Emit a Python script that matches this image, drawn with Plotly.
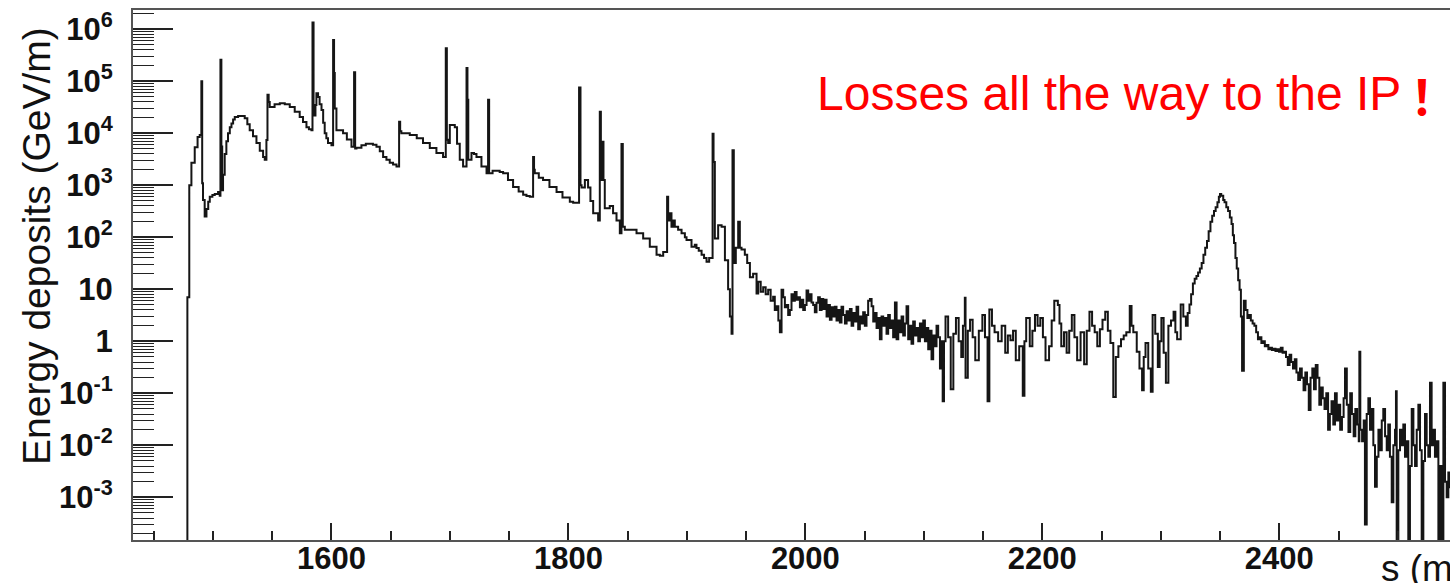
import numpy as np
import plotly.graph_objects as go

# Energy deposited along the beam line: left edge of each histogram bin (m)
# and the deposit in that bin (GeV/m). Bins with no deposit are stored as 0.

# collimation region and first magnets
s_upstream = [1470.0, 1478.4, 1480.0, 1481.8, 1484.6, 1487.0, 1488.8, 1490.2, 1490.9, 1491.6,
              1493.0, 1494.5, 1496.0, 1497.3, 1499.5, 1501.5, 1504.3, 1505.7, 1506.3, 1507.1,
              1507.8, 1508.5, 1509.9, 1511.3, 1512.7, 1514.2, 1515.6, 1517.0, 1518.4, 1521.2,
              1524.0, 1526.8, 1529.0, 1531.0, 1533.8, 1536.7, 1539.5, 1542.3, 1543.7, 1545.1,
              1546.0, 1547.0, 1547.9, 1552.0, 1556.4, 1560.6, 1564.8, 1569.0, 1573.2, 1576.0,
              1578.9, 1581.0, 1583.1, 1584.0, 1584.9, 1585.6, 1586.5, 1587.3, 1588.7, 1590.0,
              1591.6, 1593.0, 1594.3, 1595.7, 1597.1, 1600.0]
e_upstream = [0, 7, 1.0e3, 2.7e3, 5.4e3, 8.5e3, 9.3e3, 1.0e5, 1.1e3, 5.2e2,
              2.5e2, 3.5e2, 4.8e2, 6.0e2, 6.5e2, 6.8e2, 7.4e2, 6.3e2, 2.6e5, 5.6e3,
              8.0e2, 1.6e3, 4.0e3, 7.0e3, 1.0e4, 1.3e4, 1.55e4, 1.85e4, 2.05e4, 2.15e4,
              2.15e4, 1.95e4, 1.5e4, 1.15e4, 8.8e3, 6.5e3, 4.6e3, 3.5e3, 3.1e3, 7.4e3,
              5.5e4, 4.0e4, 3.2e4, 3.6e4, 3.8e4, 3.6e4, 3.2e4, 2.6e4, 2.05e4, 1.65e4,
              1.3e4, 1.2e4, 1.15e4, 1.35e6, 3.5e4, 2.2e4, 3.5e4, 5.9e4, 5.0e4, 3.6e4,
              2.8e4, 1.6e4, 1.0e4, 8.0e3, 6.5e3, 5.9e3]

s_arc1 = [1601.4, 1602.2, 1602.8, 1604.2, 1608.4, 1609.8, 1613.0, 1616.9, 1619.1, 1620.0,
          1621.1, 1625.3, 1629.0, 1632.3, 1635.0, 1638.0, 1640.8, 1643.6, 1646.4, 1649.2,
          1652.0, 1654.9, 1657.1, 1658.0, 1659.0, 1660.4, 1666.1, 1672.0, 1677.3, 1683.0,
          1688.6, 1694.2, 1696.5, 1697.4, 1698.5, 1699.9, 1702.0, 1704.1, 1706.0, 1708.3,
          1711.1, 1714.0, 1714.8, 1715.5, 1718.2, 1720.3, 1722.4, 1726.6, 1730.9, 1732.2,
          1733.1, 1736.0, 1739.3, 1742.0, 1744.9, 1749.0, 1753.3, 1758.0, 1761.8, 1764.6,
          1767.4, 1770.2, 1771.0, 1771.6, 1775.0, 1778.6, 1784.0, 1790.0, 1795.0, 1801.2,
          1804.0]
e_arc1 = [6.2e5, 1.45e5, 3.0e4, 1.15e4, 1.15e4, 1.0e4, 7.6e3, 5.5e3, 1.5e5, 5.1e3,
          5.3e3, 5.9e3, 6.3e3, 6.3e3, 6.0e3, 5.5e3, 4.5e3, 3.5e3, 3.1e3, 2.7e3,
          2.5e3, 2.3e3, 1.66e4, 1.1e4, 1.0e4, 1.0e4, 9.3e3, 8.0e3, 6.5e3, 5.2e3,
          4.2e3, 3.5e3, 4.3e5, 7.5e3, 6.5e3, 1.45e4, 1.45e4, 1.3e4, 6.3e3, 3.1e3,
          2.3e3, 1.8e5, 4.4e4, 3.1e3, 4.2e3, 4.0e3, 3.5e3, 2.3e3, 1.7e3, 4.4e4,
          1.7e3, 1.9e3, 1.9e3, 1.8e3, 1.7e3, 1.26e3, 9.3e2, 7.6e2, 6.6e2, 6.2e2,
          6.0e2, 3.5e3, 2.0e3, 1.7e3, 1.4e3, 1.26e3, 9.3e2, 7.4e2, 5.8e2, 4.8e2,
          4.6e2]

s_arc2 = [1808.2, 1809.0, 1810.2, 1811.1, 1813.9, 1816.6, 1818.6, 1820.9, 1825.1, 1826.5,
          1827.4, 1828.0, 1828.8, 1829.6, 1830.7, 1834.9, 1837.7, 1840.6, 1843.4, 1844.8,
          1845.9, 1847.6, 1851.8, 1857.5, 1863.1, 1868.7, 1874.4, 1877.2, 1880.0, 1883.3,
          1884.2, 1885.6, 1887.0, 1888.4, 1889.8, 1892.6, 1895.5, 1898.3, 1899.7, 1903.9,
          1906.7, 1908.1, 1910.0, 1912.4, 1914.5, 1916.6, 1918.8, 1921.7, 1922.5, 1923.6,
          1926.4, 1929.3, 1932.1, 1934.8, 1936.3, 1937.7, 1938.5, 1939.6, 1941.3, 1943.3,
          1944.7, 1946.1, 1948.9]
e_arc2 = [4.6e2, 7.6e4, 1.0e3, 9.1e2, 1.26e3, 9.1e2, 5.0e2, 2.9e2, 2.1e2, 2.6e4,
          4.8e3, 1.26e3, 6.9e3, 1.26e3, 3.6e2, 4.0e2, 2.9e2, 2.1e2, 1.2e2, 6.2e3,
          1.6e2, 1.4e2, 1.4e2, 1.2e2, 9.5e1, 6.6e1, 4.6e1, 4.4e1, 5.2e1, 6.0e2,
          2.1e2, 2.9e2, 1.6e2, 2.1e2, 1.6e2, 1.4e2, 1.2e2, 1.0e2, 8.9e1, 6.6e1,
          7.2e1, 6.2e1, 5.5e1, 4.6e1, 4.0e1, 3.4e1, 4.0e1, 9.8e3, 2.8e3, 9.5e1,
          1.7e2, 1.6e2, 3.6e1, 1.0e1, 3.0, 1.4, 4.7e3, 3.2e1, 6.3e1, 2.0e2,
          6.3e1, 5.8e1, 4.6e1]

s_straight1 = [1950.9, 1953.2, 1955.9, 1958.8, 1960.2, 1962.3, 1964.4, 1966.5, 1968.6, 1970.7,
               1972.8, 1974.2, 1975.7, 1977.2, 1978.5, 1979.9, 1981.3, 1982.7, 1984.1, 1985.5,
               1986.9, 1988.3, 1989.7, 1991.1, 1992.6, 1994.0, 1995.4, 1996.8, 1998.2, 1999.6,
               2001.0, 2002.4, 2003.8, 2005.2, 2006.6, 2008.0, 2009.4, 2010.8, 2012.2, 2013.7,
               2015.1, 2016.5, 2017.9, 2019.3, 2020.7, 2022.1, 2023.5, 2024.9, 2026.3, 2027.7,
               2029.1, 2030.5, 2031.9, 2033.4, 2034.8, 2036.2, 2037.6, 2039.0, 2040.4, 2041.8,
               2043.2, 2044.6, 2046.0, 2047.4, 2048.8, 2050.2, 2051.6, 2053.0, 2054.5, 2055.9,
               2057.3, 2058.7, 2060.1, 2061.5, 2062.9, 2064.3, 2065.7, 2067.1, 2068.5, 2069.9,
               2071.3, 2072.7, 2074.1, 2075.6, 2077.0, 2078.4, 2079.8, 2081.2, 2082.6, 2084.0,
               2085.4, 2086.8, 2088.2, 2089.6, 2091.0, 2092.4, 2093.8, 2095.3, 2096.7, 2098.1,
               2099.5, 2100.9, 2102.3, 2103.7, 2105.1, 2106.5, 2107.9, 2109.3, 2110.7, 2112.1,
               2113.6, 2115.0, 2115.9, 2117.0, 2118.3]
e_straight1 = [32, 17, 20, 8.3, 14, 9.0, 11, 8.0, 9.8, 6.0,
               7.2, 4.0, 4.7, 2.5, 1.5, 9.8, 7.0, 4.5, 5.0, 3.2,
               4.0, 8.0, 6.0, 8.9, 6.3, 7.0, 4.5, 6.3, 4.0, 5.0,
               9.5, 6.0, 8.0, 5.6, 5.0, 3.6, 5.5, 7.0, 4.0, 6.5,
               4.2, 6.3, 3.0, 5.0, 2.6, 4.5, 3.0, 4.6, 2.5, 4.0,
               2.3, 4.6, 3.2, 2.2, 3.8, 2.5, 4.2, 2.0, 3.5, 2.4,
               4.6, 1.7, 3.0, 2.2, 3.6, 2.0, 3.2, 6.0, 6.5, 4.7,
               2.4, 3.5, 1.8, 2.8, 1.1, 3.0, 2.0, 2.8, 1.4, 3.2,
               1.8, 2.5, 1.2, 5.6, 1.1, 2.5, 1.5, 3.0, 1.3, 2.2,
               4.7, 1.1, 2.0, 0.9, 2.4, 1.3, 1.8, 1.0, 2.2, 1.2,
               2.5, 1.0, 1.8, 0.7, 1.6, 0.45, 1.3, 0.8, 2.0, 1.2,
               0.3, 1.0, 0.07, 1.0, 3.0]

s_straight2 = [2120.5, 2122.7, 2124.9, 2127.1, 2129.4, 2131.6, 2133.0, 2134.6, 2135.2, 2137.1,
               2139.0, 2141.2, 2143.4, 2146.4, 2149.4, 2151.6, 2153.8, 2155.3, 2157.5, 2159.7,
               2162.7, 2165.7, 2168.7, 2170.9, 2173.1, 2175.3, 2177.6, 2180.5, 2183.5, 2184.9,
               2186.4, 2189.4, 2191.6, 2193.8, 2196.0, 2198.3, 2200.5, 2202.7, 2205.7, 2207.9,
               2210.1, 2213.1, 2214.5, 2216.0, 2218.3, 2220.5, 2222.7, 2224.9, 2227.1, 2229.4,
               2232.3, 2235.3, 2237.5, 2239.8, 2242.0, 2244.2, 2246.4, 2248.6, 2250.8, 2253.1,
               2255.3, 2257.5, 2259.9, 2262.0, 2264.2, 2266.4, 2268.7, 2270.9, 2273.8, 2275.3,
               2276.8, 2279.7, 2282.0, 2284.2, 2285.6, 2287.1, 2289.4, 2291.6, 2293.1, 2295.3,
               2297.5, 2299.0, 2300.5, 2302.4, 2304.3, 2306.4, 2308.6, 2310.8, 2312.3, 2313.8,
               2316.8, 2319.0, 2321.2, 2322.7]
e_straight2 = [1.2, 0.12, 1.4, 2.8, 1.0, 0.5, 2.0, 6.9, 0.2, 1.6,
               2.6, 1.2, 0.43, 1.6, 3.2, 1.2, 0.07, 4.1, 2.0, 1.5,
               1.0, 2.0, 0.6, 1.3, 1.05, 1.6, 0.43, 0.8, 0.09, 1.0,
               2.8, 0.8, 1.6, 3.2, 2.0, 2.8, 1.2, 0.43, 0.8, 2.5,
               6.0, 5.0, 2.2, 0.8, 1.5, 0.6, 1.6, 3.2, 1.2, 0.43,
               1.5, 0.36, 1.6, 3.7, 2.0, 1.5, 0.8, 1.7, 2.6, 3.7,
               1.6, 0.93, 0.085, 0.5, 0.8, 1.1, 1.3, 1.5, 4.8, 2.0,
               1.5, 0.63, 0.3, 0.115, 0.5, 0.93, 0.3, 0.107, 3.2, 1.4,
               0.32, 1.0, 2.8, 0.6, 0.16, 2.0, 2.5, 3.7, 1.5, 1.1,
               5.1, 3.0, 2.0, 3.5]

# final focus peak
s_peak = [2324.2, 2325.6, 2327.1, 2328.6, 2330.1, 2331.5, 2333.0, 2334.5, 2336.0, 2337.5,
          2339.0, 2340.4, 2341.9, 2343.4, 2344.9, 2346.3, 2347.8, 2349.0, 2350.0, 2351.0,
          2352.7, 2353.8, 2355.3, 2356.8, 2358.3, 2359.7, 2360.8, 2361.8, 2363.0, 2364.1,
          2365.3, 2366.5, 2367.6, 2368.6, 2370.1]
e_peak = [5.1, 8.0, 13, 16, 18, 21, 25, 32, 46, 63,
          85, 130, 200, 260, 320, 380, 470, 600, 680, 630,
          520, 470, 380, 320, 240, 180, 110, 78, 40, 25,
          15, 9.8, 3.0, 0.27, 6.0]

# towards the interaction point
s_to_ip = [2371.6, 2373.1, 2374.6, 2376.0, 2377.5, 2379.0, 2380.5, 2382.0, 2383.4, 2384.9,
           2386.3, 2387.8, 2389.3, 2390.8, 2392.3, 2393.8, 2395.3, 2396.8, 2398.3, 2399.8,
           2401.3, 2402.8, 2404.3, 2405.7, 2407.2, 2408.7, 2410.1, 2411.6, 2413.1, 2414.5,
           2416.0, 2417.5, 2419.0, 2420.5, 2422.0, 2423.4, 2424.9, 2426.4, 2427.9, 2429.3,
           2430.8, 2432.3, 2433.8, 2435.3, 2436.7, 2438.2, 2439.7, 2441.2, 2442.7, 2444.1,
           2445.6, 2447.0, 2448.5, 2450.0, 2451.4, 2452.9, 2454.3, 2455.5, 2457.0, 2458.4,
           2459.9, 2461.3, 2462.8, 2464.2, 2465.7, 2467.1, 2467.6, 2468.4, 2469.9, 2471.3,
           2472.3, 2473.8, 2475.2, 2476.6, 2478.0, 2479.4, 2480.8, 2482.3, 2483.7, 2485.1,
           2486.5, 2487.8, 2489.3, 2490.7, 2492.0, 2493.4, 2494.9, 2496.3, 2497.7, 2498.5,
           2499.1, 2500.5, 2501.9, 2503.3, 2504.7, 2506.1, 2507.5, 2508.9, 2510.3, 2511.8,
           2513.2, 2514.6, 2516.0, 2517.4, 2518.8, 2520.2, 2521.6, 2523.0, 2524.4, 2525.8,
           2527.2, 2528.6, 2530.0, 2531.4, 2532.8, 2534.3, 2535.7, 2537.1, 2538.5, 2539.9,
           2541.3, 2542.7, 2544.0]
e_to_ip = [4.0, 2.8, 3.2, 2.5, 2.2, 2.0, 1.5, 1.1, 1.2, 0.93,
           1.0, 0.8, 0.85, 0.7, 0.75, 0.68, 0.72, 0.65, 0.7, 0.63,
           0.75, 0.6, 0.63, 0.5, 0.35, 0.55, 0.4, 0.3, 0.45, 0.25,
           0.18, 0.3, 0.2, 0.115, 0.25, 0.15, 0.048, 0.2, 0.3, 0.12,
           0.35, 0.2, 0.06, 0.13, 0.08, 0.05, 0.1, 0.02, 0.04, 0.07,
           0.025, 0.1, 0.03, 0.06, 0.02, 0.035, 0.08, 0.3, 0.06, 0.018,
           0.1, 0.04, 0.015, 0.05, 0.025, 0.012, 0.63, 0.02, 0.012, 0.03,
           3e-4, 0.04, 0.08, 0.02, 0.05, 0.01, 1.6e-3, 0.006, 0.02, 0.008,
           0.03, 0.05, 0.015, 0.008, 0.025, 0.006, 8e-4, 0.01, 0.02, 0.11,
           0, 0.008, 0.02, 0.01, 0.025, 0.006, 0.012, 0, 0.004, 0.05,
           0.01, 0.004, 0.02, 0.06, 0.008, 0, 0.005, 0.04, 0.01, 0.006,
           0.16, 0.01, 0.02, 0.006, 0.012, 0, 0.004, 0, 0.16, 0.002,
           0.001, 0.003, 0.0015]

# axis labelling
y_tickvals = [1e-3, 1e-2, 1e-1, 1, 10, 1e2, 1e3, 1e4, 1e5, 1e6]
y_ticktext = ["10<sup>-3</sup>", "10<sup>-2</sup>", "10<sup>-1</sup>", "1", "10",
              "10<sup>2</sup>", "10<sup>3</sup>", "10<sup>4</sup>", "10<sup>5</sup>", "10<sup>6</sup>"]
x_tickvals = [1600, 1800, 2000, 2200, 2400]

segments = [(s_upstream, e_upstream), (s_arc1, e_arc1), (s_arc2, e_arc2),
            (s_straight1, e_straight1), (s_straight2, e_straight2),
            (s_peak, e_peak), (s_to_ip, e_to_ip)]
for s_seg, e_seg in segments:
    assert len(s_seg) == len(e_seg), (len(s_seg), len(e_seg))

s_all = np.concatenate([np.asarray(s, float) for s, _ in segments])
e_all = np.concatenate([np.asarray(e, float) for _, e in segments])
assert np.all(np.diff(s_all) > 0)
# empty bins drop below the visible range, as a histogram drawn on a log scale does
e_draw = np.where(e_all > 0, e_all, 1e-7)

minor_y = [m * 10.0 ** k for k in range(-4, 7) for m in range(2, 10)]

FONT = "Liberation Sans, Arial, Helvetica, sans-serif"
AXIS_GREY = "#555555"
TICK_COL = "#222222"

fig = go.Figure()
fig.add_trace(go.Scatter(
    x=s_all, y=e_draw, mode="lines",
    line=dict(shape="hv", color="#151515", width=2.0),
    hoverinfo="skip", showlegend=False,
))

fig.update_layout(
    width=1450, height=583,
    margin=dict(l=133, r=0, t=10, b=43),
    paper_bgcolor="white", plot_bgcolor="white",
    font=dict(family=FONT, color="#111111"),
    showlegend=False,
)

fig.update_xaxes(
    range=[1432.5, 2544.1],
    tickvals=x_tickvals,
    ticks="inside", ticklen=17, tickwidth=1.5, tickcolor=TICK_COL,
    minor=dict(tick0=1450, dtick=50, ticks="inside", ticklen=9, tickwidth=1.5,
               tickcolor=TICK_COL, showgrid=False),
    showline=True, linecolor=AXIS_GREY, linewidth=2, mirror=True,
    showgrid=False, zeroline=False,
    tickfont=dict(family=FONT, size=31, color="#111111", weight="bold"),
    ticklabelstandoff=-10,
)

fig.update_yaxes(
    type="log",
    range=[-3.821, 6.371],
    tickvals=y_tickvals, ticktext=y_ticktext,
    ticks="inside", ticklen=40, tickwidth=1.5, tickcolor=TICK_COL,
    minor=dict(tickvals=minor_y, ticks="inside", ticklen=21, tickwidth=1.2,
               tickcolor=TICK_COL, showgrid=False),
    showline=True, linecolor=AXIS_GREY, linewidth=2, mirror=False,
    showgrid=False, zeroline=False,
    tickfont=dict(family=FONT, size=31, color="#111111", weight="bold"),
    ticklabelstandoff=12,
)

plot_w = 1450 - 133
plot_h = 583 - 10 - 43

fig.add_annotation(
    text="Energy deposits (GeV/m)", textangle=-90,
    xref="paper", yref="paper",
    x=(36 - 133) / plot_w, y=(540 - 246) / plot_h,
    xanchor="center", yanchor="middle", showarrow=False,
    font=dict(family=FONT, size=39, color="#111111"),
)

fig.add_annotation(
    text="s (m)",
    xref="paper", yref="paper",
    x=(1379 - 133) / plot_w, y=(540 - 568) / plot_h,
    xanchor="left", yanchor="middle", showarrow=False,
    font=dict(family=FONT, size=37, color="#111111"),
)

fig.add_annotation(
    text="Losses all the way to the IP",
    xref="paper", yref="paper",
    x=(815 - 133) / plot_w, y=(540 - 94) / plot_h,
    xanchor="left", yanchor="middle", showarrow=False,
    font=dict(family="Liberation Sans, sans-serif", size=48, color="#ff0000"),
)
# wide (full-width) exclamation mark after the statement
fig.add_annotation(
    text="<b>\uff01</b>",
    xref="paper", yref="paper",
    x=(1448 - 133) / plot_w, y=(540 - 94) / plot_h,
    xanchor="right", yanchor="middle", showarrow=False,
    font=dict(family="Noto Sans CJK JP, sans-serif", size=48, color="#ff0000"),
)

fig.write_html("out.html")
